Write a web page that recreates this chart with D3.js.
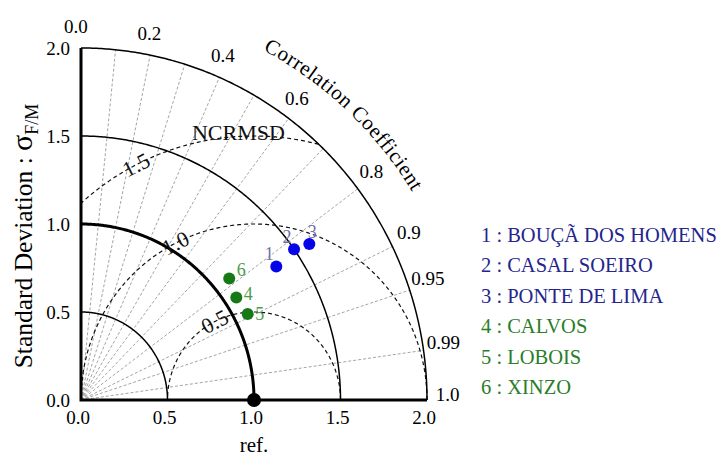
<!DOCTYPE html>
<html>
<head>
<meta charset="utf-8">
<script src="https://cdn.jsdelivr.net/npm/d3@7"></script>
<style>
  html, body { margin: 0; padding: 0; background: #fff; }
  svg { display: block; }
</style>
</head>
<body>
<svg id="chart" width="723" height="457"></svg>
<script>
// ---------------- data ----------------
const stations = ["BOUÇÃ DOS HOMENS", "CASAL SOEIRO", "PONTE DE LIMA", "CALVOS", "LOBOIS", "XINZO"];
const groups   = ["blue", "blue", "blue", "green", "green", "green"];
const stdDev   = [1.36, 1.50, 1.59, 1.07, 1.08, 1.10];
const corr     = [0.830, 0.821, 0.830, 0.839, 0.892, 0.779];

const stdTicks   = [0.0, 0.5, 1.0, 1.5, 2.0];
const stdArcs    = [0.5, 1.0, 1.5, 2.0];
const corrTicks  = [0.0, 0.2, 0.4, 0.6, 0.8, 0.9, 0.95, 0.99, 1.0];
const corrLines  = [0.1, 0.2, 0.3, 0.4, 0.5, 0.6, 0.7, 0.8, 0.9, 0.95, 0.99];
const rmsdArcs   = [0.5, 1.0, 1.5];
const refStd     = 1.0;
const maxStd     = 2.0;

// ---------------- setup ----------------
const svg = d3.select("#chart");
const sx = d3.scaleLinear().domain([0, maxStd]).range([81, 427]);
const sy = d3.scaleLinear().domain([0, maxStd]).range([400, 48]);
const line = d3.line().x(d => sx(d[0])).y(d => sy(d[1]));

const colors = { blue: "#0505e8", green: "#157a15" };
const labelColors = { blue: "#7070a8", green: "#4c9c4c" };
const legendColors = { blue: "#25258c", green: "#2a7e2a" };

function arcPts(cx, cy, r, a0, a1, n = 240) {
  return d3.range(n + 1).map(i => {
    const a = a0 + (a1 - a0) * i / n;
    return [cx + r * Math.cos(a), cy + r * Math.sin(a)];
  });
}

// correlation radial lines
svg.append("g").selectAll("path").data(corrLines).join("path")
  .attr("d", c => line([[0, 0], [maxStd * c, maxStd * Math.sqrt(1 - c * c)]]))
  .attr("fill", "none").attr("stroke", "#9a9a9a").attr("stroke-width", 0.9)
  .attr("stroke-dasharray", "3,2");

// RMSD arcs (dashed), clipped to the quadrant and outer arc
svg.append("g").selectAll("path").data(rmsdArcs).join("path")
  .attr("d", r => line(arcPts(refStd, 0, r, 0, Math.PI, 600)
      .filter(p => p[0] >= -1e-9 && p[0] * p[0] + p[1] * p[1] <= maxStd * maxStd + 1e-9)))
  .attr("fill", "none").attr("stroke", "#111").attr("stroke-width", 1.2)
  .attr("stroke-dasharray", "4,3");

// standard deviation arcs
svg.append("g").selectAll("path").data(stdArcs).join("path")
  .attr("d", r => line(arcPts(0, 0, r, 0, Math.PI / 2)))
  .attr("fill", "none").attr("stroke", "#000")
  .attr("stroke-width", r => r === refStd ? 3 : 1.5);

// axes lines
svg.append("path").attr("d", line([[0, maxStd], [0, 0], [maxStd, 0]]))
  .attr("fill", "none").attr("stroke", "#000").attr("stroke-width", 3);

// RMSD labels on arcs
const lblAng = 117 * Math.PI / 180;
svg.append("g").selectAll("text").data(rmsdArcs).join("text")
  .attr("transform", r => {
    const p = [refStd + r * Math.cos(lblAng), r * Math.sin(lblAng)];
    const q = [refStd + r * Math.cos(lblAng - 0.01), r * Math.sin(lblAng - 0.01)];
    const ang = Math.atan2(sy(q[1]) - sy(p[1]), sx(q[0]) - sx(p[0])) * 180 / Math.PI;
    return `translate(${sx(p[0])},${sy(p[1])}) rotate(${ang})`;
  })
  .attr("text-anchor", "middle").attr("dominant-baseline", "central")
  .attr("font-size", 22).attr("fill", "#111")
  .text(r => r.toFixed(1));

svg.append("text").attr("x", sx(0.91)).attr("y", sy(1.5) + 4)
  .attr("text-anchor", "middle").attr("font-size", 22).attr("fill", "#111")
  .text("NCRMSD");

// std tick labels
svg.append("g").selectAll("text").data(stdTicks).join("text")
  .attr("x", 70).attr("y", d => sy(d)).attr("dy", "0.35em")
  .attr("text-anchor", "end").attr("font-size", 19).text(d => d.toFixed(1));
svg.append("g").selectAll("text").data(stdTicks).join("text")
  .attr("x", d => sx(d) - 3).attr("y", 424)
  .attr("text-anchor", "middle").attr("font-size", 19).text(d => d.toFixed(1));

// correlation tick labels
svg.append("g").selectAll("text").data(corrTicks).join("text")
  .attr("x", c => { const a = Math.acos(c) + 0.014; return sx(2.12 * Math.cos(a)); })
  .attr("y", c => { const a = Math.acos(c) + 0.014; return sy(2.12 * Math.sin(a)); })
  .attr("text-anchor", "middle").attr("dominant-baseline", "central")
  .attr("font-size", 19)
  .text(c => c === 0 || c === 1 ? c.toFixed(1) : String(c));

// curved "Correlation Coefficient"
const a0 = 82 * Math.PI / 180, a1 = 12 * Math.PI / 180;
svg.append("path").attr("id", "ccPath")
  .attr("d", line(arcPts(0, 0, 2.25, a0, a1)))
  .attr("fill", "none").attr("stroke", "none");
svg.append("text").attr("font-size", 21).attr("letter-spacing", 0.6)
  .append("textPath").attr("href", "#ccPath")
  .attr("startOffset", "50%").attr("text-anchor", "middle")
  .text("Correlation Coefficient");

// axis titles
const yl = svg.append("text").attr("transform", "translate(32,236) rotate(-90)")
  .attr("text-anchor", "middle").attr("font-size", 25.5);
yl.append("tspan").text("Standard Deviation : ");
yl.append("tspan").attr("font-size", 30).text("σ");
yl.append("tspan").attr("font-size", 18).attr("dy", 6).text("F/M");

svg.append("text").attr("x", sx(refStd)).attr("y", 452)
  .attr("text-anchor", "middle").attr("font-size", 21).text("ref.");

// reference point
svg.append("circle").attr("cx", sx(refStd)).attr("cy", sy(0)).attr("r", 7).attr("fill", "#000");

// station points
const pts = stations.map((s, i) => {
  const a = Math.acos(corr[i]);
  return { i, s, g: groups[i], x: stdDev[i] * Math.cos(a), y: stdDev[i] * Math.sin(a) };
});
svg.append("g").selectAll("circle").data(pts).join("circle")
  .attr("cx", d => sx(d.x)).attr("cy", d => sy(d.y)).attr("r", 6)
  .attr("fill", d => colors[d.g]);
svg.append("g").selectAll("text").data(pts).join("text")
  .attr("x", d => sx(d.x) + (d.g === "blue" ? (d.i === 2 ? 3 : -7) : 12))
  .attr("y", d => sy(d.y) + (d.g === "blue" ? -12 : (d.i === 5 ? -9 : (d.i === 3 ? -4 : 0))))
  .attr("text-anchor", "middle").attr("dominant-baseline", "central")
  .attr("font-size", 18).attr("fill", d => labelColors[d.g])
  .text(d => d.i + 1);

// legend
svg.append("g").selectAll("text").data(pts).join("text")
  .attr("x", 481).attr("y", d => 242 + d.i * 30.4)
  .attr("font-size", 20.5).attr("fill", d => legendColors[d.g])
  .text(d => `${d.i + 1} : ${d.s}`);

// font for every text element
svg.selectAll("text").style("font-family", "'Liberation Serif'");
</script>
</body>
</html>
